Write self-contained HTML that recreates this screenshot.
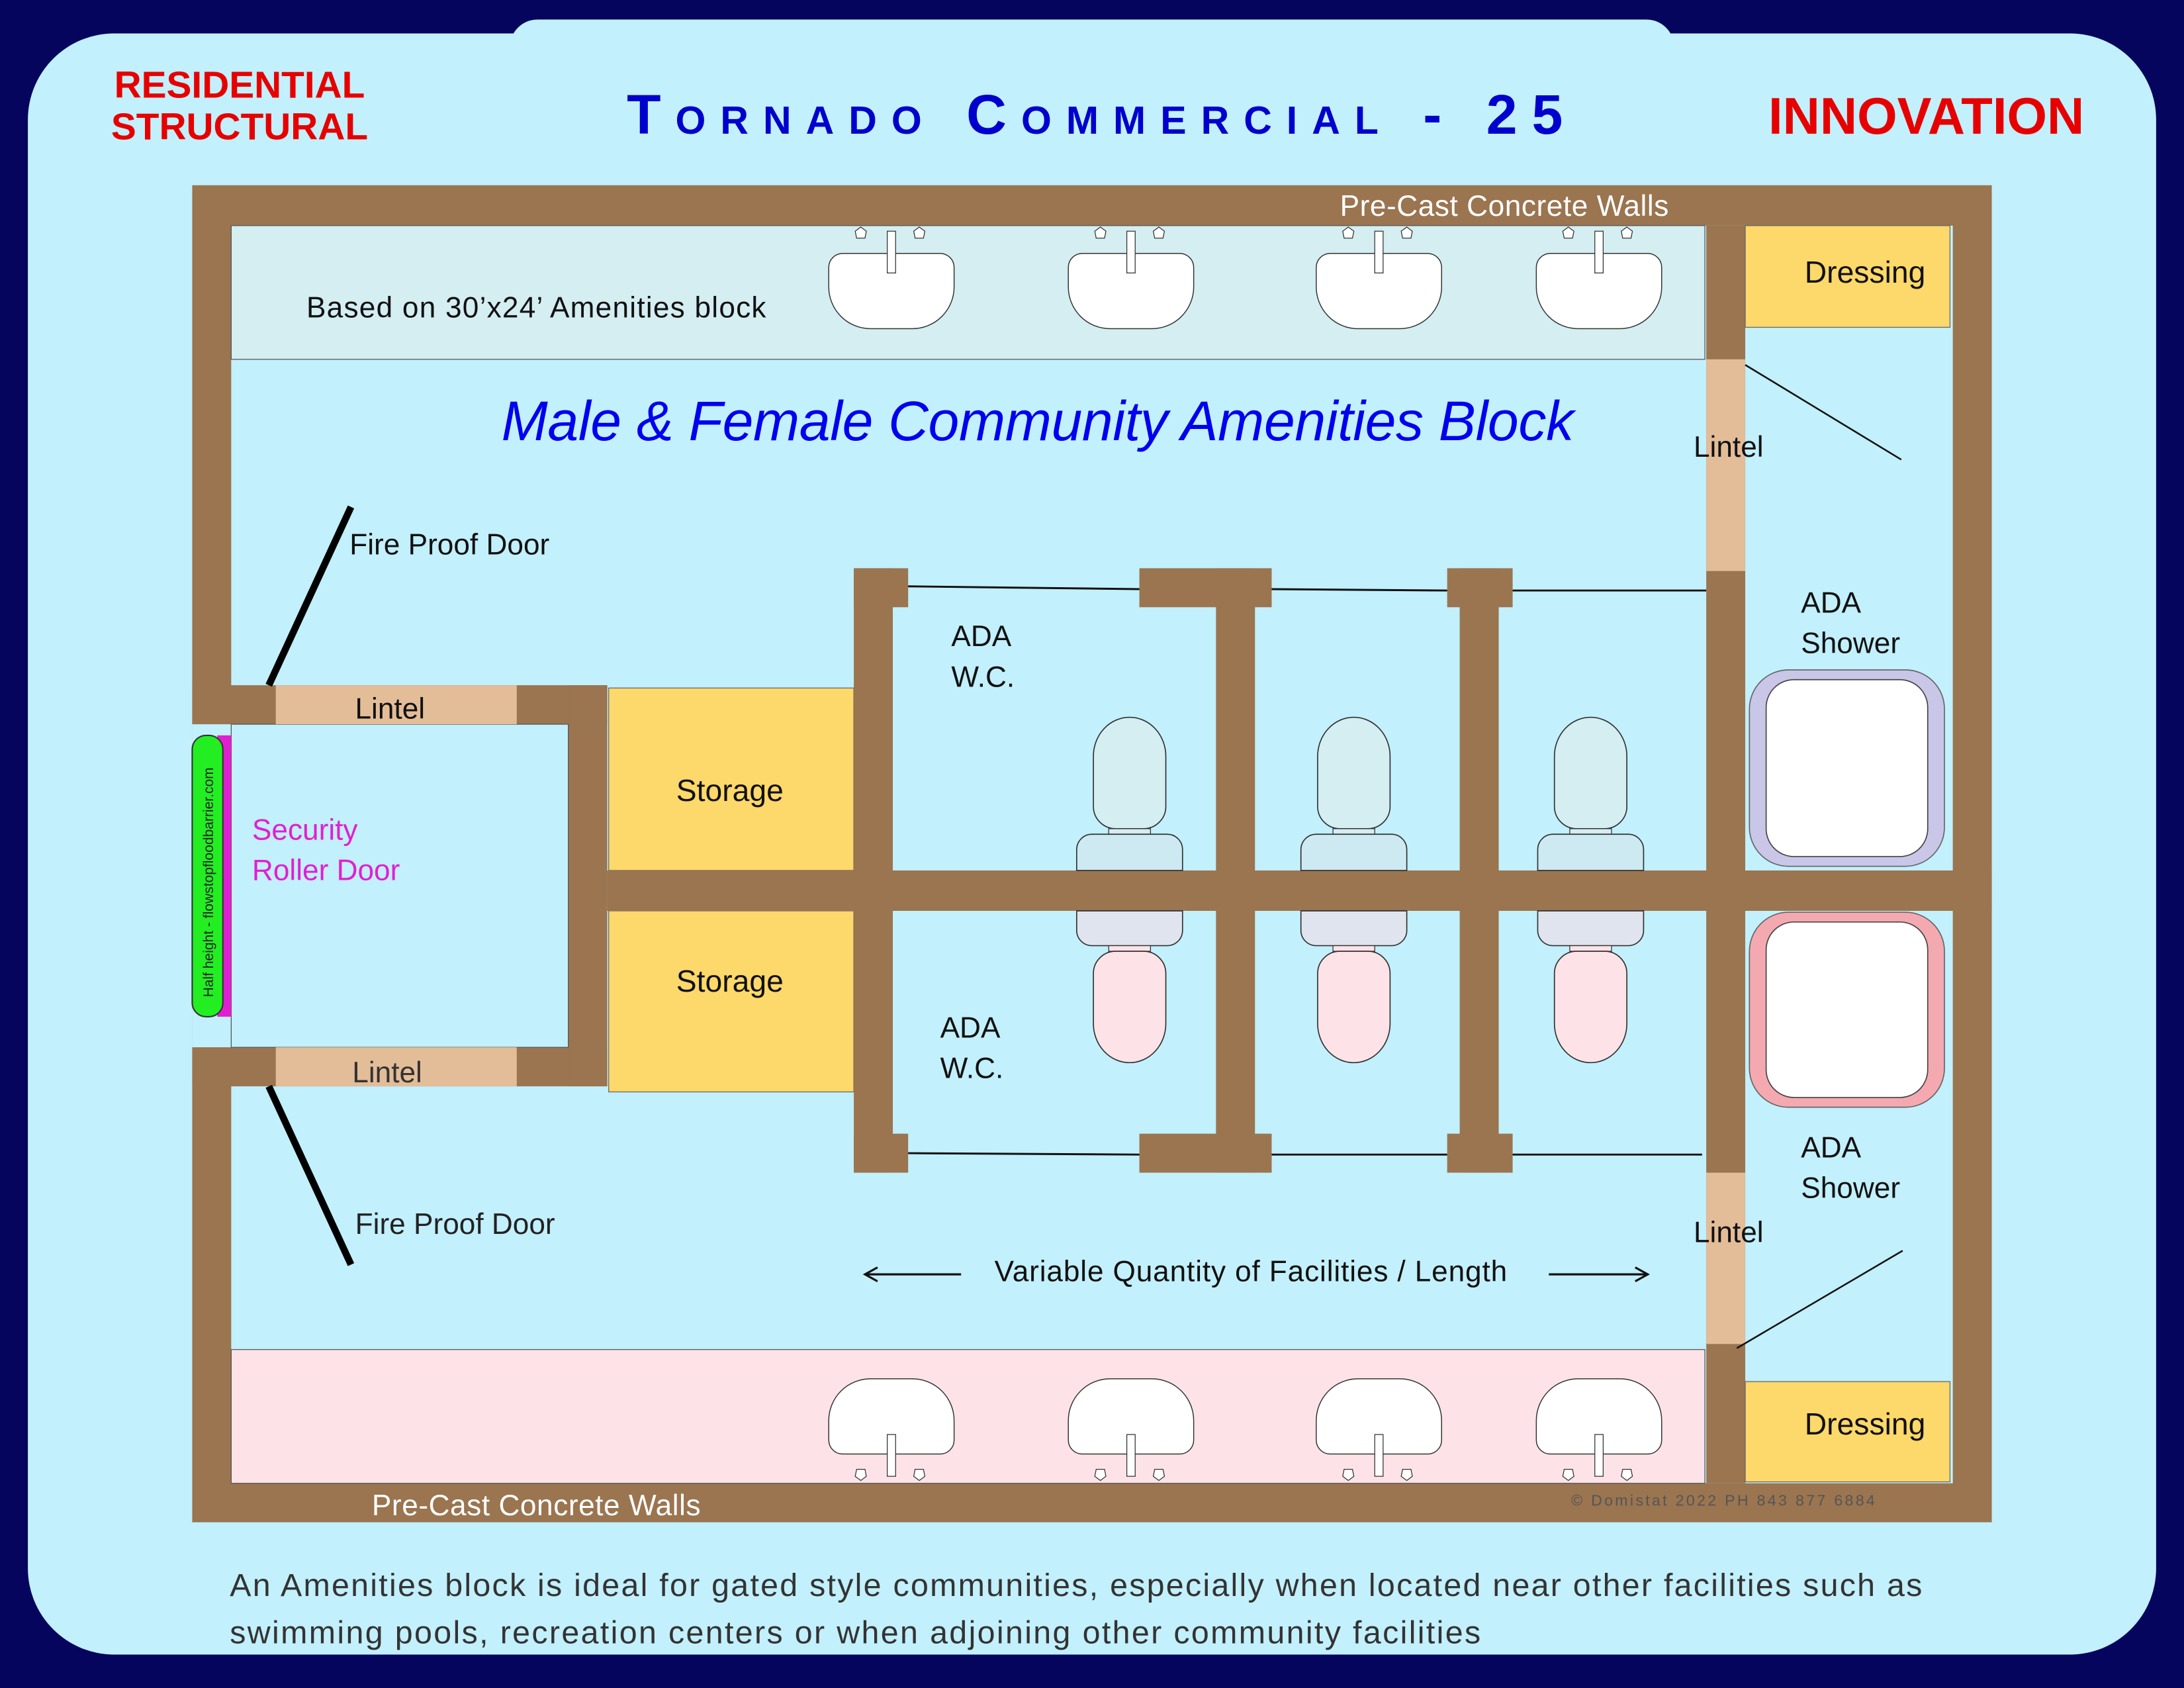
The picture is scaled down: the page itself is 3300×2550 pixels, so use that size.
<!DOCTYPE html>
<html><head><meta charset="utf-8"><style>
html,body{margin:0;padding:0;background:#05055e;}
svg{display:block}
text{font-family:"Liberation Sans",sans-serif;}
</style></head><body>
<svg width="3300" height="2550" viewBox="0 0 1568 1212" preserveAspectRatio="none" xmlns="http://www.w3.org/2000/svg">
<rect x="0" y="0" width="1568" height="1212" fill="#05055e"/>
<rect x="20" y="24" width="1528" height="1164" rx="62" fill="#c2f0fc"/>
<rect x="366" y="14" width="836" height="100" rx="20" fill="#c2f0fc"/>
<text x="172" y="70" font-size="27" font-weight="bold" fill="#e60000" text-anchor="middle">RESIDENTIAL</text>
<text x="172" y="100" font-size="27" font-weight="bold" fill="#e60000" text-anchor="middle">STRUCTURAL</text>
<text x="1383" y="96" font-size="37" font-weight="bold" fill="#e60000" text-anchor="middle">INNOVATION</text>
<text x="450" y="96" font-size="40" font-weight="bold" fill="#0000cc" textLength="672" lengthAdjust="spacing" style="font-variant:small-caps">Tornado Commercial - 25</text>

<rect x="138" y="133" width="1292" height="960" fill="#9a7550"/>
<rect x="166" y="162" width="1236" height="903" fill="#c2f0fc"/>
<rect x="138" y="520" width="28" height="232" fill="#c2f0fc"/>
<rect x="166" y="162" width="1058" height="96" fill="#d4eef2" stroke="#555" stroke-width="0.6"/>
<rect x="166" y="969" width="1058" height="96" fill="#fde3e8" stroke="#555" stroke-width="0.6"/>
<rect x="138" y="492" width="298" height="28" fill="#9a7550"/>
<rect x="138" y="752" width="298" height="28" fill="#9a7550"/>
<rect x="408" y="492" width="28" height="288" fill="#9a7550"/>
<rect x="166" y="520" width="242" height="232" fill="#c2f0fc" stroke="#555" stroke-width="0.6"/>
<rect x="198" y="492" width="173" height="28" fill="#e3bc98"/>
<rect x="198" y="752" width="173" height="28" fill="#e3bc98"/>
<text x="280" y="516" font-size="21" fill="#111" text-anchor="middle">Lintel</text>
<text x="278" y="777" font-size="21" fill="#333" text-anchor="middle">Lintel</text>
<rect x="156" y="528" width="10" height="202" fill="#e020d0"/>
<rect x="138" y="528" width="22" height="202" rx="10" fill="#22ee22" stroke="#333" stroke-width="1"/>
<text transform="translate(153,716) rotate(-90)" font-size="10" fill="#222">Half height - flowstopfloodbarrier.com</text>
<text x="181" y="603" font-size="21" fill="#e020d0">Security</text>
<text x="181" y="632" font-size="21" fill="#e020d0">Roller Door</text>
<rect x="437" y="494" width="176" height="131" fill="#fdd86a" stroke="#666" stroke-width="0.6"/>
<rect x="437" y="654" width="176" height="130" fill="#fdd86a" stroke="#666" stroke-width="0.6"/>
<text x="524" y="575" font-size="22" fill="#111" text-anchor="middle">Storage</text>
<text x="524" y="712" font-size="22" fill="#111" text-anchor="middle">Storage</text>
<rect x="436" y="625" width="994" height="29" fill="#9a7550"/>
<rect x="613" y="408" width="28" height="434" fill="#9a7550"/>
<rect x="613" y="408" width="39" height="28" fill="#9a7550"/>
<rect x="613" y="814" width="39" height="28" fill="#9a7550"/>
<rect x="873" y="408" width="28" height="434" fill="#9a7550"/>
<rect x="818" y="408" width="95" height="28" fill="#9a7550"/>
<rect x="818" y="814" width="95" height="28" fill="#9a7550"/>
<rect x="1048" y="408" width="28" height="434" fill="#9a7550"/>
<rect x="1039" y="408" width="47" height="28" fill="#9a7550"/>
<rect x="1039" y="814" width="47" height="28" fill="#9a7550"/>
<g stroke="#111" stroke-width="1.4">
<line x1="652" y1="421" x2="818" y2="423"/><line x1="913" y1="423" x2="1039" y2="424"/><line x1="1086" y1="424" x2="1225" y2="424"/>
<line x1="652" y1="828" x2="818" y2="829"/><line x1="913" y1="829" x2="1039" y2="829"/><line x1="1086" y1="829" x2="1222" y2="829"/>
</g>
<rect x="1225" y="162" width="28" height="903" fill="#9a7550"/>
<rect x="1225" y="258" width="28" height="152" fill="#e3bc98"/>
<rect x="1225" y="842" width="28" height="123" fill="#e3bc98"/>
<rect x="1253" y="162" width="147" height="73" fill="#fdd86a" stroke="#666" stroke-width="0.6"/>
<rect x="1253" y="992" width="147" height="72" fill="#fdd86a" stroke="#666" stroke-width="0.6"/>
<text x="1339" y="203" font-size="22" fill="#111" text-anchor="middle">Dressing</text>
<text x="1339" y="1030" font-size="22" fill="#111" text-anchor="middle">Dressing</text>
<line x1="1253" y1="262" x2="1365" y2="330" stroke="#111" stroke-width="1.2"/>
<line x1="1247" y1="968" x2="1366" y2="898" stroke="#111" stroke-width="1.2"/>
<text x="1241" y="328" font-size="21" fill="#111" text-anchor="middle">Lintel</text>
<text x="1241" y="892" font-size="21" fill="#111" text-anchor="middle">Lintel</text>
<rect x="1256" y="481" width="140" height="141" rx="28" fill="#c9c6e8" stroke="#666" stroke-width="0.8"/>
<rect x="1268" y="488" width="116" height="127" rx="20" fill="#fff" stroke="#444" stroke-width="0.8"/>
<rect x="1256" y="655" width="140" height="140" rx="28" fill="#f4a9b0" stroke="#666" stroke-width="0.8"/>
<rect x="1268" y="662" width="116" height="126" rx="20" fill="#fff" stroke="#444" stroke-width="0.8"/>
<text x="1293" y="440" font-size="21" fill="#111">ADA</text>
<text x="1293" y="469" font-size="21" fill="#111">Shower</text>
<text x="1293" y="831" font-size="21" fill="#111">ADA</text>
<text x="1293" y="860" font-size="21" fill="#111">Shower</text>
<text x="683" y="464" font-size="21" fill="#111">ADA</text>
<text x="683" y="493" font-size="21" fill="#111">W.C.</text>
<text x="675" y="745" font-size="21" fill="#111">ADA</text>
<text x="675" y="774" font-size="21" fill="#111">W.C.</text>
<defs>
<g id="toil">
<path d="M-26,579 L-26,543 A26,28 0 0 1 26,543 L26,579 A16,16 0 0 1 10,595 L-10,595 A16,16 0 0 1 -26,579Z" fill="#d4eef2" stroke="#333" stroke-width="0.8"/>
<rect x="-15" y="595" width="30" height="4" fill="#d4eef2" stroke="#333" stroke-width="0.6"/>
<path d="M-38,625 L-38,610 A11,11 0 0 1 -27,599 L27,599 A11,11 0 0 1 38,610 L38,625Z" fill="#cdeaf3" stroke="#333" stroke-width="0.8"/>
<path d="M-38,654 L-38,668 A11,11 0 0 0 -27,679 L27,679 A11,11 0 0 0 38,668 L38,654Z" fill="#e0e4ee" stroke="#333" stroke-width="0.8"/>
<rect x="-15" y="679" width="30" height="4" fill="#fde3e8" stroke="#333" stroke-width="0.6"/>
<path d="M-26,699 A16,16 0 0 1 -10,683 L10,683 A16,16 0 0 1 26,699 L26,735 A26,28 0 0 1 -26,735Z" fill="#fde3e8" stroke="#333" stroke-width="0.8"/>
</g>
<g id="sinkT">
<path d="M-45,192 A10,10 0 0 1 -35,182 L35,182 A10,10 0 0 1 45,192 L45,206 A30,30 0 0 1 15,236 L-15,236 A30,30 0 0 1 -45,206Z" fill="#fff" stroke="#333" stroke-width="0.7"/>
<rect x="-3" y="166" width="6" height="30" fill="#fff" stroke="#333" stroke-width="0.6"/>
<polygon points="-22,163 -18,166 -19,171 -25,171 -26,166" fill="#fff" stroke="#333" stroke-width="0.6"/>
<polygon points="20,163 24,166 23,171 17,171 16,166" fill="#fff" stroke="#333" stroke-width="0.6"/>
</g>
</defs>
<use href="#toil" x="811"/><use href="#toil" x="972"/><use href="#toil" x="1142"/>
<use href="#sinkT" x="640"/><use href="#sinkT" x="812"/><use href="#sinkT" x="990"/><use href="#sinkT" x="1148"/>
<g transform="translate(0,1226) scale(1,-1)">
<use href="#sinkT" x="640"/><use href="#sinkT" x="812"/><use href="#sinkT" x="990"/><use href="#sinkT" x="1148"/>
</g>
<line x1="252" y1="364" x2="193" y2="492" stroke="#000" stroke-width="5"/>
<line x1="193" y1="780" x2="252" y2="908" stroke="#000" stroke-width="5"/>
<text x="251" y="398" font-size="21" fill="#111">Fire Proof Door</text>
<text x="255" y="886" font-size="21" fill="#222">Fire Proof Door</text>
<text x="962" y="155" font-size="21" fill="#fff" textLength="236">Pre-Cast Concrete Walls</text>
<text x="267" y="1088" font-size="21" fill="#fff" textLength="236">Pre-Cast Concrete Walls</text>
<text x="220" y="228" font-size="21" fill="#111" textLength="330">Based on 30’x24’ Amenities block</text>
<text x="360" y="316" font-size="40" font-style="italic" fill="#0000ee" textLength="770">Male &amp; Female Community Amenities  Block</text>
<text x="714" y="920" font-size="21" fill="#111" textLength="368">Variable Quantity of Facilities / Length</text>
<line x1="622" y1="915" x2="690" y2="915" stroke="#111" stroke-width="1.5"/>
<polyline points="630,910 621,915 630,920" fill="none" stroke="#111" stroke-width="1.5"/>
<line x1="1112" y1="915" x2="1182" y2="915" stroke="#111" stroke-width="1.5"/>
<polyline points="1174,910 1183,915 1174,920" fill="none" stroke="#111" stroke-width="1.5"/>
<text x="1128" y="1081" font-size="11" fill="#555" textLength="218">© Domistat 2022 PH 843 877 6884</text>
<text x="165" y="1146" font-size="23" fill="#333" textLength="1215">An Amenities block is ideal for gated style communities, especially when located near other facilities such as</text>
<text x="165" y="1180" font-size="23" fill="#333" textLength="898">swimming pools, recreation centers or when adjoining other community facilities</text>
</svg>
</body></html>
